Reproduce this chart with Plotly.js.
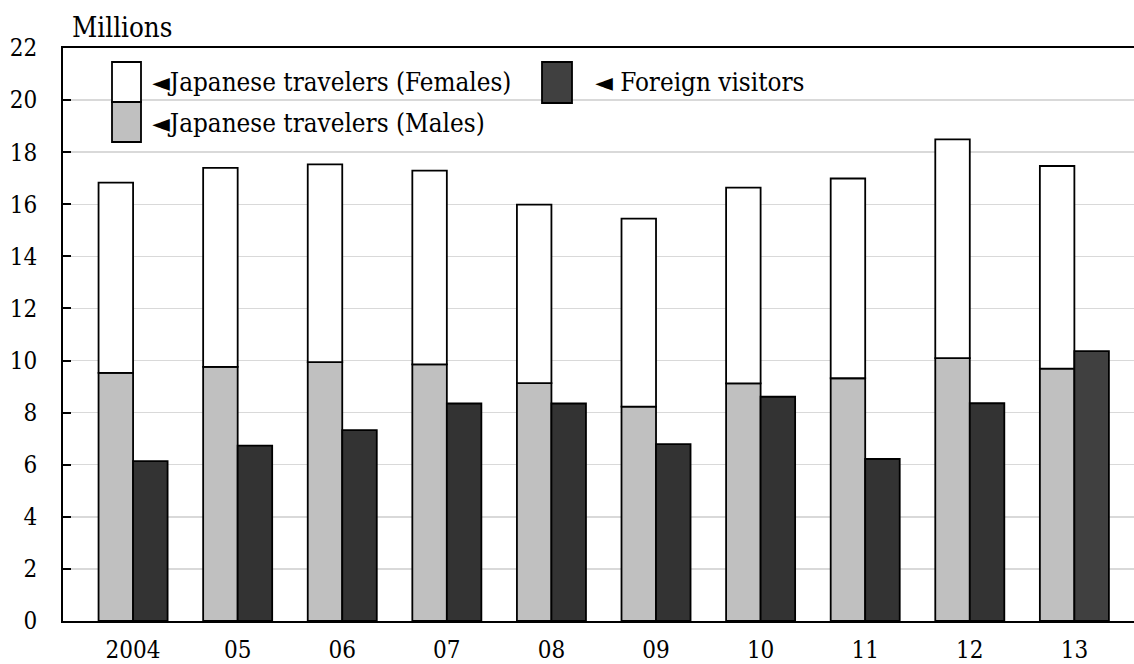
<!DOCTYPE html>
<html>
<head>
<meta charset="utf-8">
<script src="https://cdn.plot.ly/plotly-3.0.1.min.js"></script>
<style>
  html, body { margin: 0; padding: 0; background: #fff; }
  #chart { width: 1134px; height: 664px; }
</style>
</head>
<body>
<div id="chart"></div>
<script>
// ---- Data (millions) ----
const years = ['2004', '05', '06', '07', '08', '09', '10', '11', '12', '13'];
const japaneseMales   = [9.53, 9.76, 9.94, 9.85, 9.13, 8.23, 9.12, 9.32, 10.09, 9.69];
const japaneseFemales = [7.30, 7.64, 7.59, 7.44, 6.86, 7.22, 7.52, 7.67, 8.40, 7.78];
const foreignVisitors = [6.14, 6.73, 7.33, 8.35, 8.35, 6.79, 8.61, 6.22, 8.36, 10.36];
const yTicks = [0, 2, 4, 6, 8, 10, 12, 14, 16, 18, 20, 22];

// ---- Style ----
const FONT = '"DejaVu Serif Condensed", "DejaVu Serif"';
const TICK_FS = 24;
const TXT_FS = 25.8;
const W = 1134, H = 664;
const M = { l: 63, r: 0, t: 48, b: 43 };
const PW = W - M.l - M.r, PH = H - M.t - M.b;
const px = x => (x - M.l) / PW;
const py = y => (H - M.b - y) / PH;

const barW = 0.33;
const outline = { color: '#000', width: 1.8 };
const foreignColors = foreignVisitors.map((v, i) => i === foreignVisitors.length - 1 ? '#404040' : '#333333');

const traces = [
  { type: 'bar', name: 'Japanese travelers (Males)', x: years, y: japaneseMales,
    offset: -barW, width: barW, marker: { color: '#c0c0c0', line: outline } },
  { type: 'bar', name: 'Japanese travelers (Females)', x: years, y: japaneseFemales, base: japaneseMales,
    offset: -barW, width: barW, marker: { color: '#ffffff', line: outline } },
  { type: 'bar', name: 'Foreign visitors', x: years, y: foreignVisitors,
    offset: 0, width: barW, marker: { color: foreignColors, line: outline } }
];

const shapes = [
  { type: 'rect', xref: 'paper', yref: 'paper', x0: px(112), x1: px(141), y0: py(102), y1: py(62),
    fillcolor: '#ffffff', line: { color: '#000', width: 1.8 } },
  { type: 'rect', xref: 'paper', yref: 'paper', x0: px(112), x1: px(141), y0: py(142), y1: py(102),
    fillcolor: '#c0c0c0', line: { color: '#000', width: 1.8 } },
  { type: 'rect', xref: 'paper', yref: 'paper', x0: px(542), x1: px(572), y0: py(103), y1: py(62),
    fillcolor: '#404040', line: { color: '#000', width: 1.8 } }
];

const txtFont = { family: FONT, size: TXT_FS, color: '#000' };
const annotations = [
  { xref: 'paper', yref: 'paper', x: px(70), y: py(27), xanchor: 'left', yanchor: 'middle',
    text: 'Millions', showarrow: false, font: { family: FONT, size: 27.5, color: '#000' } },
  { xref: 'paper', yref: 'paper', x: px(150), y: py(82), xanchor: 'left', yanchor: 'middle',
    text: '◄Japanese travelers (Females)', showarrow: false, font: txtFont },
  { xref: 'paper', yref: 'paper', x: px(150), y: py(123), xanchor: 'left', yanchor: 'middle',
    text: '◄Japanese travelers (Males)', showarrow: false, font: txtFont },
  { xref: 'paper', yref: 'paper', x: px(593), y: py(82), xanchor: 'left', yanchor: 'middle',
    text: '◄ Foreign visitors', showarrow: false, font: txtFont }
];

const layout = {
  width: W, height: H,
  margin: M,
  paper_bgcolor: '#fff', plot_bgcolor: '#fff',
  barmode: 'overlay',
  showlegend: false,
  font: { family: FONT, size: TICK_FS, color: '#000' },
  xaxis: {
    type: 'category', range: [-0.67, 9.57],
    showline: true, linecolor: '#000', linewidth: 2, mirror: true,
    showgrid: false, ticks: '', zeroline: false,
    tickfont: { family: FONT, size: TICK_FS, color: '#000' },
    ticklabelstandoff: 6,
    fixedrange: true
  },
  yaxis: {
    range: [0, 22], tickvals: yTicks, ticktext: yTicks.map(String),
    showline: true, linecolor: '#000', linewidth: 2,
    ticks: 'inside', ticklen: 8, tickwidth: 2, tickcolor: '#000',
    showgrid: true, gridcolor: '#d9d9d9', gridwidth: 1.5,
    zeroline: false,
    tickfont: { family: FONT, size: TICK_FS, color: '#000' },
    ticklabelstandoff: 19,
    fixedrange: true
  },
  shapes: shapes,
  annotations: annotations
};

Plotly.newPlot('chart', traces, layout, { displayModeBar: false, staticPlot: true });
</script>
</body>
</html>
